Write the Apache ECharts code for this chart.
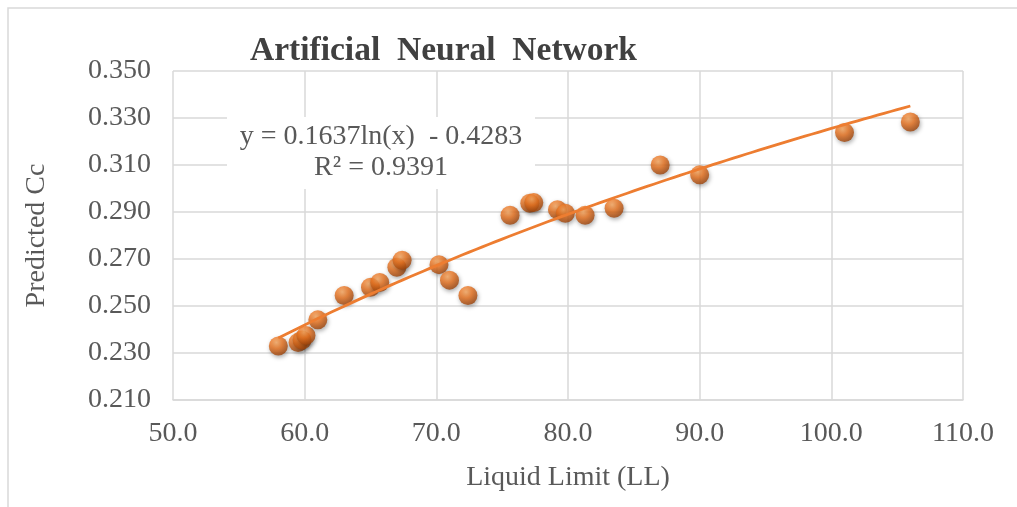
<!DOCTYPE html>
<html>
<head>
<meta charset="utf-8">
<script src="https://cdn.jsdelivr.net/npm/echarts@6/dist/echarts.min.js"></script>
<style>
html,body{margin:0;padding:0;background:#fff;}
#c{width:1017px;height:507px;}
</style>
</head>
<body>
<div id="c"></div>
<script>
var chartTitle = 'Artificial  Neural  Network';
var xAxisTitle = 'Liquid Limit (LL)';
var yAxisTitle = 'Predicted Cc';
var liquidLimit = [58.0, 59.5, 59.8, 60.1, 61.0, 63.0, 65.0, 65.7, 67.0, 67.4, 70.2, 71.0, 72.4, 75.6, 77.1, 77.4, 79.2, 79.8, 81.3, 83.5, 87.0, 90.0, 101.0, 106.0];
var predictedCc = [0.2330, 0.2345, 0.2355, 0.2375, 0.2441, 0.2545, 0.2580, 0.2600, 0.2665, 0.2695, 0.2676, 0.2610, 0.2545, 0.2886, 0.2937, 0.2940, 0.2910, 0.2895, 0.2886, 0.2916, 0.3100, 0.3058, 0.3238, 0.3283];
var trendA = 0.1637, trendB = -0.4283;
var equationLines = ['y = 0.1637ln(x)  - 0.4283', 'R\u00B2 = 0.9391'];
var xTicks = {min: 50, max: 110, interval: 10};
var yTicks = {min: 0.21, max: 0.35, interval: 0.02};

var scatterData = liquidLimit.map(function (x, i) { return [x, predictedCc[i]]; });
var xmin = Math.min.apply(null, liquidLimit), xmax = Math.max.apply(null, liquidLimit);
var trendData = [];
for (var k = 0; k <= 96; k++) {
  var x = xmin + (xmax - xmin) * k / 96;
  trendData.push([x, trendA * Math.log(x) + trendB]);
}

var font = '"Liberation Serif", "Times New Roman", serif';
var chart = echarts.init(document.getElementById('c'), null, {renderer: 'canvas'});
chart.setOption({
  backgroundColor: '#ffffff',
  animation: false,
  title: {
    text: chartTitle, left: 245, top: 29,
    textStyle: {fontFamily: font, fontSize: 33.5, fontWeight: 'bold', color: '#404040'}
  },
  graphic: [
    {type: 'rect', shape: {x: 8, y: 8, width: 1030, height: 530}, style: {fill: 'none', stroke: '#d9d9d9', lineWidth: 1.5}, silent: true},
    {type: 'rect', z: 100, shape: {x: 227, y: 117, width: 308, height: 72}, style: {fill: '#ffffff'}, silent: true},
    {type: 'text', z: 101, x: 381, y: 137,
     style: {text: equationLines[0], fontFamily: font, fontSize: 28, fill: '#595959', align: 'center', verticalAlign: 'middle'}},
    {type: 'text', z: 101, x: 381, y: 168,
     style: {text: equationLines[1], fontFamily: font, fontSize: 28, fill: '#595959', align: 'center', verticalAlign: 'middle'}}
  ],
  grid: {left: 173, right: 54, top: 71, bottom: 107},
  xAxis: {
    type: 'value', min: xTicks.min, max: xTicks.max, interval: xTicks.interval,
    name: xAxisTitle, nameLocation: 'middle', nameGap: 64,
    nameTextStyle: {fontFamily: font, fontSize: 28, color: '#595959'},
    axisLine: {show: true, lineStyle: {color: '#d9d9d9', width: 1.5}},
    axisTick: {show: false},
    axisLabel: {fontFamily: font, fontSize: 28, color: '#595959', margin: 20,
                formatter: function (v) { return v.toFixed(1); }},
    splitLine: {show: true, lineStyle: {color: '#d9d9d9', width: 1.5}}
  },
  yAxis: {
    type: 'value', min: yTicks.min, max: yTicks.max, interval: yTicks.interval,
    name: yAxisTitle, nameLocation: 'middle', nameGap: 122, nameRotate: 90,
    nameTextStyle: {fontFamily: font, fontSize: 28, color: '#595959'},
    axisLine: {show: false},
    axisTick: {show: false},
    axisLabel: {fontFamily: font, fontSize: 28, color: '#595959', margin: 22,
                formatter: function (v) { return v.toFixed(3); }},
    splitLine: {show: true, lineStyle: {color: '#d9d9d9', width: 1.5}}
  },
  series: [
    {
      type: 'scatter', data: scatterData, symbolSize: 19, z: 2,
      itemStyle: {
        color: {type: 'radial', x: 0.4, y: 0.32, r: 0.7,
                colorStops: [{offset: 0, color: '#FBAA62'}, {offset: 0.45, color: '#EB7420'}, {offset: 1, color: '#9A420A'}]},
        shadowBlur: 4, shadowColor: 'rgba(0,0,0,0.4)', shadowOffsetX: 1, shadowOffsetY: 2
      }
    },
    {
      type: 'line', data: trendData, showSymbol: false, symbol: 'none', z: 3,
      lineStyle: {color: '#ED7D31', width: 2.8}
    }
  ]
});
</script>
</body>
</html>
